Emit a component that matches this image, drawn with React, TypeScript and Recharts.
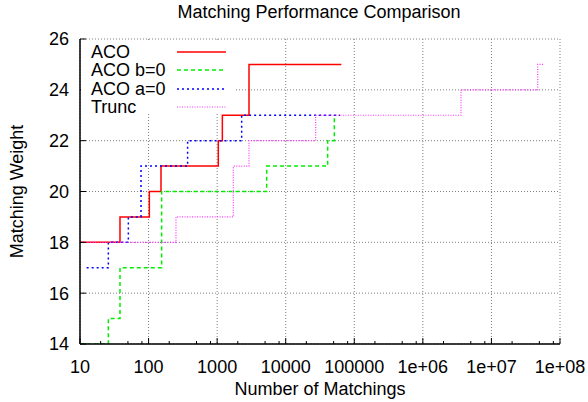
import React from 'react';
import { LineChart, Line, XAxis, YAxis, CartesianGrid, Label } from 'recharts';

const seriesNames = ['ACO', 'ACO b=0', 'ACO a=0', 'Trunc'];

const acoX = [10, 38.3, 102.6, 151.8, 1040, 1191, 2915, 64700];
const acoY = [18, 19, 20, 21, 22, 23, 25, 25];

const acoB0X = [10, 25.9, 38.3, 155, 5275, 40900, 51200];
const acoB0Y = [14, 15, 17, 20, 21, 22, 23];

const acoA0X = [12.5, 25.9, 50.7, 77.6, 371, 2279, 61900];
const acoA0Y = [17, 18, 19, 21, 22, 23, 23];

const truncX = [10, 251, 1722, 2915, 27350, 3600000, 47300000, 57200000];
const truncY = [18, 19, 21, 22, 23, 24, 25, 25];

const xMajorTicks = [10, 100, 1000, 10000, 100000, 1e6, 1e7, 1e8];
const xTickLabels = ['10', '100', '1000', '10000', '100000', '1e+06', '1e+07', '1e+08'];
const xMinorTicks = [
  20, 50, 80, 200, 500, 800, 2000, 5000, 8000, 20000, 50000, 80000,
  200000, 500000, 800000, 2e6, 5e6, 8e6, 2e7, 5e7, 8e7,
];
const yTicks = [14, 16, 18, 20, 22, 24, 26];

const allXTicks = [...xMajorTicks, ...xMinorTicks].sort((a, b) => a - b);

const toPoints = (xs: number[], ys: number[]) => xs.map((x, i) => ({ x, y: ys[i] }));
const acoData = toPoints(acoX, acoY);
const acoB0Data = toPoints(acoB0X, acoB0Y);
const acoA0Data = toPoints(acoA0X, acoA0Y);
const truncData = toPoints(truncX, truncY);

const FONT = '"Liberation Sans", Arial, Helvetica, sans-serif';

const styles = [
  { color: '#ff0000', dash: undefined as string | undefined, width: 1.5 },
  { color: '#00ee00', dash: '4 3', width: 1.5 },
  { color: '#0000ff', dash: '2 3', width: 1.5 },
  { color: '#ff33ff', dash: '1 1.5', width: 1.2 },
];

function BottomTick(props: any) {
  const { x, y, payload } = props;
  const i = xMajorTicks.indexOf(payload.value);
  const major = i >= 0;
  return (
    <g>
      <line x1={x} y1={y} x2={x} y2={y - (major ? 6 : 3)} stroke="#000" strokeWidth={1} />
      {major && (
        <text x={x} y={y + 29} textAnchor="middle" fontSize={18} fontFamily={FONT} fill="#000">
          {xTickLabels[i]}
        </text>
      )}
    </g>
  );
}

function TopTick(props: any) {
  const { x, y, payload } = props;
  const major = xMajorTicks.indexOf(payload.value) >= 0;
  return <line x1={x} y1={y} x2={x} y2={y + (major ? 6 : 3)} stroke="#000" strokeWidth={1} />;
}

function LeftTick(props: any) {
  const { x, y, payload } = props;
  return (
    <g>
      <line x1={x} y1={y} x2={x + 6} y2={y} stroke="#000" strokeWidth={1} />
      <text x={x - 11} y={y} dy="0.36em" textAnchor="end" fontSize={18} fontFamily={FONT} fill="#000">
        {payload.value}
      </text>
    </g>
  );
}

function RightTick(props: any) {
  const { x, y } = props;
  return <line x1={x} y1={y} x2={x - 6} y2={y} stroke="#000" strokeWidth={1} />;
}

const axisLine = { stroke: '#000', strokeWidth: 1.5 };

export default function App() {
  return (
    <div style={{ position: 'absolute', left: 0, top: 0, width: 588, height: 402, background: '#fff', fontFamily: FONT }}>
      <div
        style={{
          position: 'absolute',
          left: 0,
          top: 3,
          width: 638,
          textAlign: 'center',
          fontSize: 18,
          lineHeight: '18px',
          color: '#000',
        }}
      >
        Matching Performance Comparison
      </div>
      <div style={{ position: 'absolute', left: 0, top: 0 }}>
        <LineChart width={588} height={402} margin={{ top: 39, right: 28, bottom: 28, left: 40 }}>
          <CartesianGrid
            stroke="#808080"
            strokeDasharray="1 2"
            verticalValues={xMajorTicks}
            horizontalValues={yTicks}
          />
          <XAxis
            xAxisId={0}
            dataKey="x"
            type="number"
            scale="log"
            domain={[10, 1e8]}
            allowDataOverflow
            ticks={allXTicks}
            interval={0}
            tick={<BottomTick />}
            tickLine={false}
            tickSize={0}
            tickMargin={0}
            height={30}
            axisLine={axisLine}
          >
            <Label
              value="Number of Matchings"
              position="bottom"
              offset={8}
              fontSize={18}
              fontFamily={FONT}
              fill="#000"
            />
          </XAxis>
          <XAxis
            xAxisId="top"
            orientation="top"
            dataKey="x"
            type="number"
            scale="log"
            domain={[10, 1e8]}
            allowDataOverflow
            ticks={allXTicks}
            interval={0}
            tick={<TopTick />}
            tickLine={false}
            tickSize={0}
            tickMargin={0}
            height={0}
            axisLine={axisLine}
          />
          <YAxis
            yAxisId={0}
            type="number"
            domain={[14, 26]}
            allowDataOverflow
            ticks={yTicks}
            interval={0}
            tick={<LeftTick />}
            tickLine={false}
            tickSize={0}
            tickMargin={0}
            width={40}
            axisLine={axisLine}
          >
            <Label
              value="Matching Weight"
              angle={-90}
              position="left"
              offset={23}
              fontSize={18}
              fontFamily={FONT}
              fill="#000"
              style={{ textAnchor: 'middle' }}
            />
          </YAxis>
          <YAxis
            yAxisId="right"
            orientation="right"
            type="number"
            domain={[14, 26]}
            allowDataOverflow
            ticks={yTicks}
            interval={0}
            tick={<RightTick />}
            tickLine={false}
            tickSize={0}
            tickMargin={0}
            width={0}
            axisLine={axisLine}
          />
          {[acoData, acoB0Data, acoA0Data, truncData].map((d, i) => (
            <Line
              key={seriesNames[i]}
              data={d}
              dataKey="y"
              name={seriesNames[i]}
              type="stepAfter"
              stroke={styles[i].color}
              strokeWidth={styles[i].width}
              strokeDasharray={styles[i].dash}
              dot={false}
              activeDot={false}
              isAnimationActive={false}
            />
          ))}
        </LineChart>
      </div>
      <div
        style={{
          position: 'absolute',
          left: 81,
          top: 40,
          width: 155,
          height: 72,
          background: '#fff',
          paddingTop: 3,
          boxSizing: 'border-box',
        }}
      >
        {seriesNames.map((n, i) => (
          <div key={n} style={{ position: 'relative', height: 18.3, lineHeight: '18.3px', fontSize: 18, color: '#000' }}>
            <span style={{ position: 'absolute', left: 10, top: 0, whiteSpace: 'nowrap' }}>{n}</span>
            <svg style={{ position: 'absolute', left: 96, top: 0 }} width={50} height={18}>
              <line
                x1={0}
                y1={9}
                x2={49}
                y2={9}
                stroke={styles[i].color}
                strokeWidth={styles[i].width}
                strokeDasharray={styles[i].dash}
              />
            </svg>
          </div>
        ))}
      </div>
    </div>
  );
}
